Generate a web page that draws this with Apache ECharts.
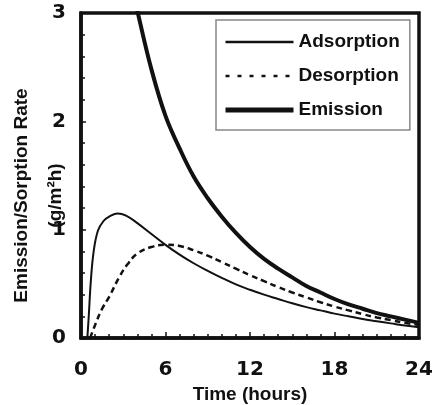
<!DOCTYPE html>
<html>
<head>
<meta charset="utf-8">
<script src="https://cdn.jsdelivr.net/npm/echarts@6/dist/echarts.min.js"></script>
<style>html,body{margin:0;padding:0;background:#fff;}#c{width:443px;height:405px;}</style>
</head>
<body>
<div id="c"></div>
<script>
var xTicks = [0, 6, 12, 18, 24];
var yTicks = [0, 1, 2, 3];

var adsTime = [0.45, 0.55, 0.7, 0.9, 1.2, 1.6, 2.0, 2.6, 3.2, 4, 5, 6, 7, 8, 9, 10, 11, 12, 13, 14, 15, 16, 17, 18, 19, 20, 21, 22, 23, 24];
var adsorption = [0, 0.2, 0.53, 0.8, 0.99, 1.08, 1.12, 1.15, 1.13, 1.06, 0.96, 0.86, 0.77, 0.69, 0.62, 0.555, 0.495, 0.445, 0.40, 0.36, 0.32, 0.285, 0.255, 0.225, 0.20, 0.175, 0.155, 0.135, 0.115, 0.10];

var desTime = [0.65, 1, 1.5, 2, 2.75, 3.3, 4, 5, 6, 7, 8, 9, 10, 11, 12, 13, 14, 15, 16, 17, 18, 19, 20, 21, 22, 23, 24];
var desorption = [0, 0.12, 0.27, 0.38, 0.57, 0.68, 0.78, 0.84, 0.86, 0.85, 0.81, 0.76, 0.70, 0.64, 0.58, 0.525, 0.47, 0.42, 0.375, 0.33, 0.29, 0.255, 0.22, 0.19, 0.165, 0.14, 0.12];

var emiTime = [3.5, 4, 5, 6, 7, 8, 9, 10, 11, 12, 13, 14, 15, 16, 17, 18, 19, 20, 21, 22, 23, 24];
var emission = [3.3, 3.02, 2.48, 2.05, 1.75, 1.49, 1.29, 1.12, 0.97, 0.84, 0.73, 0.64, 0.56, 0.48, 0.42, 0.36, 0.31, 0.27, 0.23, 0.20, 0.17, 0.14];

function pairs(t, v) { return t.map(function (x, i) { return [x, v[i]]; }); }

var chart = echarts.init(document.getElementById('c'), null, {renderer: 'canvas'});
var labelFont = {fontFamily: 'DejaVu Sans', fontWeight: 'bold', fontSize: 20, color: '#111'};
var nameFont = {fontFamily: 'Liberation Sans, Arial', fontWeight: 'bold', fontSize: 19, color: '#111'};
var noSym = {color: 'rgba(0,0,0,0)', borderColor: 'rgba(0,0,0,0)', borderWidth: 0, opacity: 0};

chart.setOption({
  animation: false,
  backgroundColor: '#fff',
  grid: {left: 81, right: 24, top: 13, bottom: 67, show: true, borderColor: '#111', borderWidth: 3.5, outerBoundsMode: 'none', containLabel: false},
  legend: {
    orient: 'vertical', left: 216, top: 20,
    padding: [12, 10, 10, 7],
    itemWidth: 68, itemHeight: 14, itemGap: 14,
    borderColor: '#888', borderWidth: 1.5,
    itemStyle: noSym,
    textStyle: {fontFamily: 'Liberation Sans, Arial', fontWeight: 'bold', fontSize: 19, color: '#111', lineHeight: 20},
    data: [
      {name: 'Adsorption', itemStyle: noSym, lineStyle: {width: 2.5, color: '#111'}},
      {name: 'Desorption', itemStyle: noSym, lineStyle: {width: 2.5, color: '#111', type: [4, 8]}},
      {name: 'Emission', itemStyle: noSym, lineStyle: {width: 5, color: '#111'}}
    ]
  },
  xAxis: {
    type: 'value', min: xTicks[0], max: xTicks[xTicks.length - 1], interval: 6,
    name: 'Time (hours)', nameLocation: 'middle', nameGap: 45, nameTextStyle: nameFont,
    axisLine: {show: true, lineStyle: {color: '#111', width: 3.5}},
    axisTick: {show: true, inside: true, length: 6, lineStyle: {color: '#111', width: 1.5}},
    minorTick: {show: true, splitNumber: 6, length: 4, lineStyle: {color: '#111', width: 1.5}},
    splitLine: {show: false},
    axisLabel: Object.assign({margin: 22, formatter: function (v) { return xTicks.indexOf(v) >= 0 ? String(v) : ''; }}, labelFont)
  },
  yAxis: {
    type: 'value', min: yTicks[0], max: yTicks[yTicks.length - 1], interval: 1,
    name: 'Emission/Sorption Rate\n(g/m²h)', nameLocation: 'middle', nameRotate: 90, nameGap: 8,
    nameMoveOverlap: false,
    nameTextStyle: Object.assign({lineHeight: 34, padding: [0, 40, 0, 0]}, nameFont),
    axisLine: {show: true, lineStyle: {color: '#111', width: 3.5}},
    axisTick: {show: true, inside: true, length: 5, lineStyle: {color: '#111', width: 1.5}},
    minorTick: {show: true, splitNumber: 5, length: 4, lineStyle: {color: '#111', width: 1.5}},
    splitLine: {show: false},
    axisLabel: Object.assign({margin: 15}, labelFont)
  },
  series: [
    {name: 'Adsorption', type: 'line', data: pairs(adsTime, adsorption), showSymbol: false, symbol: 'none', smooth: 0.4,
     color: '#111', lineStyle: {color: '#111', width: 2}},
    {name: 'Desorption', type: 'line', data: pairs(desTime, desorption), showSymbol: false, symbol: 'none', smooth: 0.4,
     color: '#111', lineStyle: {color: '#111', width: 2.5, type: [6, 4]}},
    {name: 'Emission', type: 'line', data: pairs(emiTime, emission), showSymbol: false, symbol: 'none', smooth: 0.4,
     color: '#111', lineStyle: {color: '#111', width: 4}}
  ]
});
</script>
</body>
</html>
